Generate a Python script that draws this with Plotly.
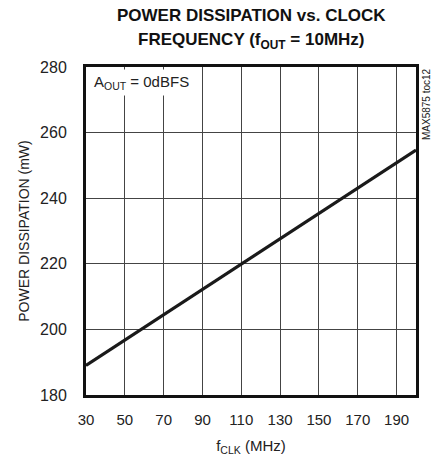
import plotly.graph_objects as go

# Data
clock_mhz = [30, 200]
power_mw = [189.0, 254.7]

x_tick_vals = [30, 50, 70, 90, 110, 130, 150, 170, 190]
x_tick_text = ["30", "50", "70", "90", "110", "130", "150", "170", "190"]
y_tick_vals = [180, 200, 220, 240, 260, 280]
y_tick_text = ["180", "200", "220", "240", "260", "280"]

FONT = "Liberation Sans, Arial, sans-serif"

L, R, T, B = 86, 16, 67, 63
H = 458
PH = H - T - B


def py(pix):
    return (H - B - pix) / PH


fig = go.Figure()
fig.add_trace(go.Scatter(
    x=clock_mhz, y=power_mw, mode="lines",
    line=dict(color="#1a1a1a", width=3.2),
    showlegend=False, hoverinfo="skip",
))

tfont = dict(family=FONT, size=17, color="#111111", weight="bold")

fig.update_layout(
    width=432, height=H,
    margin=dict(l=L, r=R, t=T, b=B, autoexpand=False),
    paper_bgcolor="white", plot_bgcolor="white",
    font=dict(family=FONT, color="#1a1a1a", size=15),
    xaxis=dict(
        range=[30, 200], tickvals=x_tick_vals, ticktext=x_tick_text,
        showgrid=True, gridcolor="#444444", gridwidth=1,
        showline=True, linecolor="#111111", linewidth=3, mirror=True,
        ticks="", ticklabelstandoff=9, zeroline=False, automargin=False,
        tickfont=dict(family=FONT, size=15, color="#222222"),
        title=dict(text="f<sub>CLK</sub> (MHz)", standoff=14,
                   font=dict(family=FONT, size=15, color="#222222")),
    ),
    yaxis=dict(
        range=[180, 280], tickvals=y_tick_vals, ticktext=y_tick_text,
        showgrid=True, gridcolor="#444444", gridwidth=1,
        showline=True, linecolor="#111111", linewidth=3, mirror=True,
        ticks="", ticklabelstandoff=13, zeroline=False, automargin=False,
        tickfont=dict(family=FONT, size=16, color="#222222"),
        title=dict(text="POWER DISSIPATION (mW)", standoff=8,
                   font=dict(family=FONT, size=14, color="#222222")),
    ),
    annotations=[
        dict(text="POWER DISSIPATION vs. CLOCK", xref="paper", yref="paper",
             x=0.5, y=py(15), xanchor="center", yanchor="middle",
             showarrow=False, font=tfont),
        dict(text="FREQUENCY (f<sub>OUT</sub> = 10MHz)", xref="paper", yref="paper",
             x=0.5, y=py(41), xanchor="center", yanchor="middle",
             showarrow=False, font=tfont),
        dict(text="A<sub>OUT</sub> = 0dBFS", xref="paper", yref="paper",
             x=0.012, y=0.995, xanchor="left", yanchor="top",
             showarrow=False, bgcolor="white", borderpad=3,
             font=dict(family=FONT, size=15, color="#222222")),
        dict(text="MAX5875 toc12", xref="paper", yref="paper",
             x=(426 - L) / (432 - L - R), y=py(104), xanchor="center", yanchor="middle",
             textangle=-90, showarrow=False,
             font=dict(family=FONT, size=10, color="#222222")),
    ],
)

fig.write_html("out.html",
               config={"displayModeBar": False, "staticPlot": True},
               post_script="document.body.style.margin='0';document.body.style.overflow='hidden';")
